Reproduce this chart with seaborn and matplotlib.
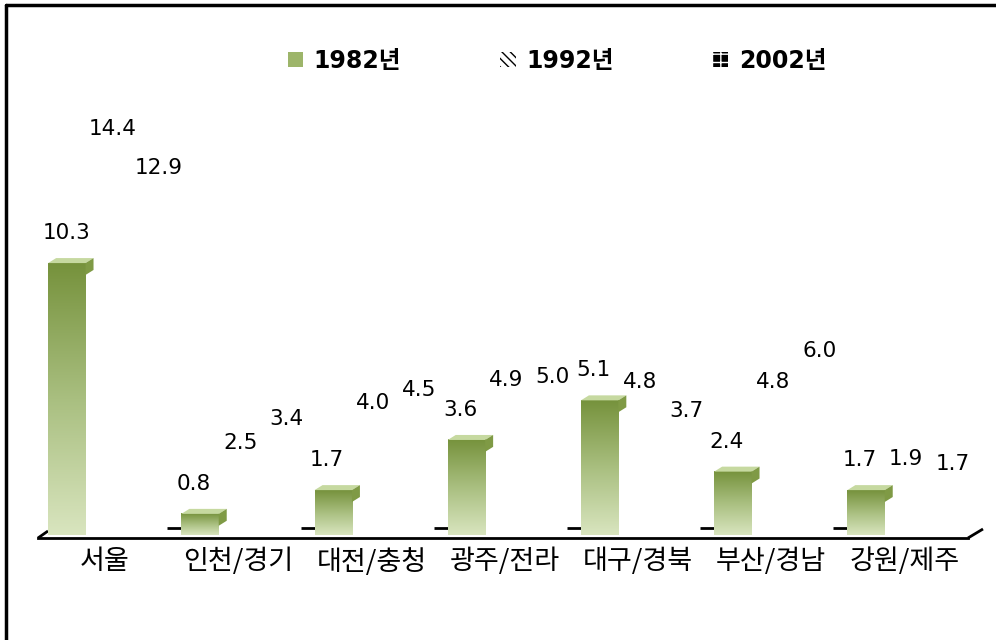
import numpy as np
import pandas as pd
import matplotlib
matplotlib.use('Agg')
import matplotlib.pyplot as plt
from matplotlib.patches import Patch, Polygon
from matplotlib.colors import LinearSegmentedColormap
import seaborn as sns

sns.set_theme(style='white')
plt.rcParams['font.family'] = ['DejaVu Sans', 'Noto Sans CJK KR']
plt.rcParams['text.color'] = 'black'

regions = ['서울', '인천/경기', '대전/충청', '광주/전라', '대구/경북', '부산/경남', '강원/제주']
years = ['1982년', '1992년', '2002년']
v1982 = [10.3, 0.8, 1.7, 3.6, 5.1, 2.4, 1.7]
v1992 = [14.4, 2.5, 4.0, 4.9, 4.8, 4.8, 1.9]
v2002 = [12.9, 3.4, 4.5, 5.0, 3.7, 6.0, 1.7]

df = pd.DataFrame({
    'region': regions * 3,
    'year': [years[0]] * 7 + [years[1]] * 7 + [years[2]] * 7,
    'value': v1982 + v1992 + v2002,
})

W, H = 996, 640
fig = plt.figure(figsize=(W / 100, H / 100), dpi=100)

# axes placed in pixel terms
x0_px, x1_px = 38, 968
y0_px, y1_px = 538, 100
ax = fig.add_axes([x0_px / W, (H - y0_px) / H, (x1_px - x0_px) / W, (y0_px - y1_px) / H])

sns.barplot(data=df, x='region', y='value', hue='year', order=regions, hue_order=years,
            width=1.04, gap=0.19, palette=['#8faa5a', 'white', 'white'],
            legend=False, ax=ax, saturation=1)

unit_px = 133.2
ax.set_xlim(-(113 - x0_px) / unit_px, (x1_px - 113) / unit_px)
ppu = 26.4
ax.set_ylim(-3 / ppu, (y0_px - y1_px - 3) / ppu)

grad = LinearSegmentedColormap.from_list('g', ['#d9e5bf', '#a9bf80', '#76923c'])
cap_dx, cap_dy = 8 / unit_px, 5 / ppu

n = len(regions)
patches = ax.patches
for k, p in enumerate(patches[:3 * n]):
    yi = k // n
    val = df['value'].iloc[k]
    x = p.get_x()
    w = p.get_width()
    cx = x + w / 2
    if yi == 0:
        p.set_visible(False)
        img = np.linspace(0, 1, 256).reshape(-1, 1)
        ax.imshow(img, cmap=grad, aspect='auto', origin='lower',
                  extent=[x, x + w, 0, val], zorder=3)
        top = Polygon([[x, val], [x + w, val], [x + w + cap_dx, val + cap_dy],
                       [x + cap_dx, val + cap_dy]], closed=True,
                      facecolor='#c6d9a0', edgecolor='none', zorder=4)
        side = Polygon([[x + w, val], [x + w + cap_dx, val + cap_dy],
                        [x + w + cap_dx, val + cap_dy - 0.45], [x + w, val - 0.45]],
                       closed=True, facecolor='#7f9a45', edgecolor='none', zorder=4)
        ax.add_patch(top)
        ax.add_patch(side)
        if k > 0:
            ax.plot([x - 14 / unit_px, x], [0.25, 0.25], color='black', lw=2,
                    solid_capstyle='butt', zorder=2)
        dy = 30
    else:
        p.set_alpha(0)
        dy = 26
    shift = 0 if k % n == 0 else -6
    ax.text(cx + shift / unit_px, val + dy / ppu, f'{val:.1f}', ha='center', va='center',
            fontsize=15.5, color='black', zorder=5)

for s in ['top', 'right', 'left']:
    ax.spines[s].set_visible(False)
ax.spines['bottom'].set_linewidth(2)
ax.spines['bottom'].set_color('black')
ax.set_yticks([])
ax.tick_params(axis='x', length=0, pad=7, labelsize=19.5)
ax.set_xlabel('')
ax.set_ylabel('')
xticks = np.arange(len(regions)) - 8 / unit_px
ax.set_xticks(xticks)
ax.set_xticklabels(regions, family=['Noto Sans CJK KR', 'DejaVu Sans'], color='black')

# slanted floor ends
xl, xr = ax.get_xlim()
yb = ax.get_ylim()[0]
ax.plot([xl, xl + 10 / unit_px], [yb, yb + 7 / ppu], color='black', lw=2,
        clip_on=False, solid_capstyle='butt')
ax.plot([xr, xr + 15 / unit_px], [yb, yb + 9 / ppu], color='black', lw=2,
        clip_on=False, solid_capstyle='butt')

handles = [
    Patch(facecolor='#9db56a', edgecolor='none'),
    Patch(facecolor='white', edgecolor='black', hatch='\\\\\\\\', linewidth=0),
    Patch(facecolor='black', edgecolor='white', hatch='++', linewidth=0),
]
leg = fig.legend(handles, years, loc='center', bbox_to_anchor=(557 / W, 1 - 61 / H),
                 ncol=3, frameon=False, handlelength=0.65, handleheight=0.6,
                 handletextpad=0.45, columnspacing=4.2,
                 prop={'size': 17, 'weight': 'bold'})
for t in leg.get_texts():
    t.set_color('black')

# outer frame (left and top only)
fig.add_artist(plt.Line2D([6 / W, 6 / W], [0, 1 - 5 / H], transform=fig.transFigure,
                          color='black', lw=2.5))
fig.add_artist(plt.Line2D([6 / W, 1], [1 - 5 / H, 1 - 5 / H], transform=fig.transFigure,
                          color='black', lw=2.5))

fig.savefig('out.png', dpi=100)
